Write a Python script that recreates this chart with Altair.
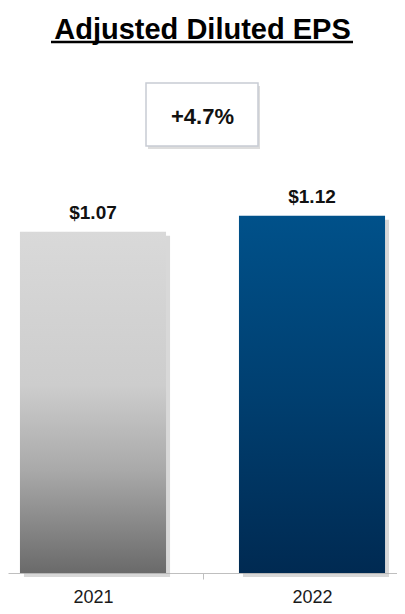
import altair as alt
import pandas as pd

years = ["2021", "2022"]
eps = [1.07, 1.12]
eps_labels = ["$1.07", "$1.12"]
growth_label = "+4.7%"
title_text = "Adjusted Diluted EPS"

FONT = "Liberation Sans"

df = pd.DataFrame({"year": years, "eps": eps, "label": eps_labels})

x_enc = alt.X(
    "year:N",
    sort=years,
    scale=alt.Scale(paddingInner=0.333, paddingOuter=0.0546),
    axis=alt.Axis(
        title=None,
        labelAngle=0,
        tickOffset=-109.5,
        labelOffset=109.5,
        tickColor={"condition": {"test": "datum.value === '2022'", "value": "#bfbfbf"}, "value": "transparent"},
        domainColor="#bfbfbf",
        tickSize=6,
        labelFontSize=18,
        labelFont=FONT,
        labelColor="#1a1a1a",
        labelPadding=9,
        grid=False,
    ),
)
y_enc = alt.Y("eps:Q", scale=alt.Scale(domain=[0, 1.7712], nice=False, zero=True), axis=None)

base = alt.Chart(df)

shadow = base.mark_bar(xOffset=4, yOffset=4, color="#a8a8a8", opacity=0.45).encode(x=x_enc, y=y_enc)

gray_grad = alt.Gradient(
    gradient="linear",
    stops=[
        alt.GradientStop(color="#d9d9d9", offset=0),
        alt.GradientStop(color="#cdcdcd", offset=0.45),
        alt.GradientStop(color="#a9a9a9", offset=0.7),
        alt.GradientStop(color="#6a6a6a", offset=1),
    ],
    x1=0, x2=0, y1=0, y2=1,
)
blue_grad = alt.Gradient(
    gradient="linear",
    stops=[
        alt.GradientStop(color="#00518a", offset=0),
        alt.GradientStop(color="#003f70", offset=0.5),
        alt.GradientStop(color="#002a52", offset=1),
    ],
    x1=0, x2=0, y1=0, y2=1,
)

bar1 = base.transform_filter(alt.datum.year == years[0]).mark_bar(color=gray_grad).encode(x=x_enc, y=y_enc)
bar2 = base.transform_filter(alt.datum.year == years[1]).mark_bar(color=blue_grad).encode(x=x_enc, y=y_enc)

labels = base.mark_text(
    dy=-19, fontSize=19, fontWeight="bold", font=FONT, color="#111111", baseline="middle"
).encode(x=x_enc, y=y_enc, text="label:N")

ann = alt.Chart(pd.DataFrame({"t": [growth_label], "title": [title_text]}))

box_shadow = ann.mark_rect(fill="#cfcfcf", opacity=0.7).encode(
    x=alt.value(140), x2=alt.value(252), y=alt.value(78), y2=alt.value(141)
)
box = ann.mark_rect(fill="white", stroke="#c8ccd4", strokeWidth=1.5).encode(
    x=alt.value(138), x2=alt.value(250), y=alt.value(75), y2=alt.value(138)
)
box_text = ann.mark_text(
    fontSize=22, fontWeight="bold", font=FONT, color="#111111", baseline="alphabetic", align="center"
).encode(x=alt.value(194.5), y=alt.value(116), text="t:N")

title = ann.mark_text(
    fontSize=29, fontWeight="bold", font=FONT, color="#000000", baseline="alphabetic", align="center"
).encode(x=alt.value(194.5), y=alt.value(31), text="title:N")
underline = ann.mark_rule(strokeWidth=2.5, color="#000000").encode(
    x=alt.value(43), x2=alt.value(345), y=alt.value(34)
)

chart = (
    alt.layer(shadow, bar1, bar2, labels, box_shadow, box, box_text, title, underline)
    .properties(
        width=389,
        height=565,
        background="white",
        autosize=alt.AutoSizeParams(type="none"),
        padding={"left": 0, "top": 0, "right": 0, "bottom": 40},
    )
    .configure_view(stroke=None, strokeWidth=0)
)

chart.save("out.html", embed_options={"renderer": "svg", "actions": False})
